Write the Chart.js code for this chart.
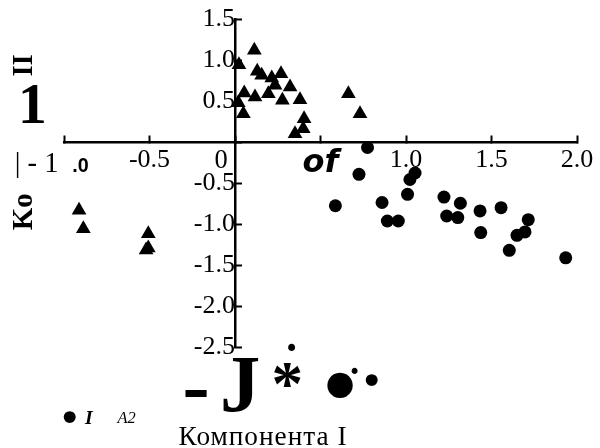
<!DOCTYPE html>
<html><head><meta charset="utf-8">
<script src="https://cdn.jsdelivr.net/npm/chart.js@4/dist/chart.umd.min.js"></script>
<style>html,body{margin:0;padding:0;background:#fff;}canvas{display:block;}</style>
</head><body>
<canvas id="c" width="600" height="448"></canvas>
<script>
// Series 1 (triangles)
const triX = [0.113, 0.023, 0.130, 0.156, 0.215, 0.269, 0.234, 0.322, 0.195, 0.054, 0.117, 0.277, 0.380, 0.019, 0.049, 0.404, 0.399, 0.351, 0.663, 0.731, -0.912, -0.887, -0.507, -0.507, -0.520];
const triY = [1.124, 0.949, 0.868, 0.820, 0.787, 0.839, 0.698, 0.677, 0.595, 0.604, 0.555, 0.515, 0.522, 0.485, 0.351, 0.290, 0.168, 0.107, 0.595, 0.351, -0.827, -1.051, -1.112, -1.287, -1.311];
// Series 2 (circles)
const cirX = [0.775, 0.725, 0.587, 0.860, 0.891, 0.955, 1.009, 1.023, 1.053, 1.222, 1.238, 1.318, 1.303, 1.433, 1.556, 1.437, 1.715, 1.696, 1.649, 1.604, 1.934];
const cirY = [-0.061, -0.388, -0.771, -0.732, -0.957, -0.957, -0.632, -0.451, -0.372, -0.665, -0.896, -0.741, -0.915, -0.835, -0.795, -1.098, -0.941, -1.091, -1.132, -1.315, -1.406];
// Tick labels
const xTickValues = [-1, -0.5, 0, 0.5, 1, 1.5, 2];
const xTickLabels = ['', '-0.5', '', 'of', '1.0', '1.5', '2.0'];
const yTickValues = [1.5, 1, 0.5, 0, -0.5, -1, -1.5, -2, -2.5];
const yTickLabels = ['1.5', '1.0', '0.5', '', '-0.5', '-1.0', '-1.5', '-2.0', '-2.5'];
const xTitle = 'Компонента I';

const SERIF = '"Liberation Serif", "Times New Roman", serif';
// free-standing text fragments of the scanned figure: ink box centre, fitted size
const notes = [
  {t: 'II', cx: 22.5, cy: 65.5, h: 19, rot: -90, style: 'bold {s} ' + SERIF},
  {t: '1', cx: 33, cy: 104, h: 38, style: 'bold {s} ' + SERIF},
  {t: '| - 1', cx: 37, cy: 165, w: 40, style: '{s} ' + SERIF},
  {t: 'Ko', cx: 22.5, cy: 212, h: 19, rot: -90, style: 'bold {s} ' + SERIF},
  {t: '.0', cx: 81, cy: 165, h: 14, style: 'bold {s} "Liberation Sans", Arial, sans-serif'},
  {t: '0', cx: 221.5, cy: 159, h: 18, style: '{s} ' + SERIF},
  {t: '-', cx: 196, cy: 392.5, w: 22, style: 'bold {s} ' + SERIF},
  {t: 'J', cx: 241, cy: 385, h: 54, style: 'bold {s} ' + SERIF},
  {t: '*', cx: 287, cy: 375, h: 24, style: 'bold {s} ' + SERIF},
  {t: '•', cx: 291.5, cy: 346.5, h: 7, style: '{s} "DejaVu Sans", sans-serif'},
  {t: '●', cx: 340, cy: 385, h: 26, style: '{s} "DejaVu Sans", sans-serif'},
  {t: '•', cx: 355, cy: 370.5, h: 6, style: '{s} "DejaVu Sans", sans-serif'},
  {t: '•', cx: 372, cy: 380, h: 12, style: '{s} "DejaVu Sans", sans-serif'},
  {t: '•', cx: 70, cy: 417, h: 12, style: '{s} "DejaVu Sans", sans-serif'},
  {t: 'I', cx: 89, cy: 417, h: 13, style: 'italic bold {s} ' + SERIF},
  {t: 'A2', cx: 126, cy: 417.5, h: 11, style: 'italic {s} ' + SERIF},
  {t: xTitle, cx: 262.5, cy: 436, h: 18, ls: 1, style: '{s} ' + SERIF}
];

function drawFit(ctx, n) {
  ctx.save();
  ctx.textAlign = 'left';
  ctx.textBaseline = 'alphabetic';
  if (n.ls) ctx.letterSpacing = n.ls + 'px';
  ctx.font = n.style.replace('{s}', '100px');
  let m = ctx.measureText(n.t);
  const ink = n.w ? (m.actualBoundingBoxLeft + m.actualBoundingBoxRight) : (m.actualBoundingBoxAscent + m.actualBoundingBoxDescent);
  const size = 100 * (n.w || n.h) / ink;
  ctx.font = n.style.replace('{s}', size.toFixed(2) + 'px');
  m = ctx.measureText(n.t);
  ctx.translate(n.cx, n.cy);
  if (n.rot) ctx.rotate(n.rot * Math.PI / 180);
  const ox = -(m.actualBoundingBoxRight - m.actualBoundingBoxLeft) / 2;
  const oy = (m.actualBoundingBoxAscent - m.actualBoundingBoxDescent) / 2;
  ctx.fillStyle = '#000';
  ctx.fillText(n.t, ox, oy);
  ctx.restore();
}

const notesPlugin = {
  id: 'notes',
  afterDraw(chart) { notes.forEach(n => drawFit(chart.ctx, n)); }
};

function labelFor(values, labels, v) {
  const i = values.findIndex(t => Math.abs(t - v) < 1e-9);
  return i < 0 ? '' : labels[i];
}

// centred axes: let the layout padding alone define the plot area
function noPadding(scale) {
  scale.paddingLeft = 0; scale.paddingRight = 0;
  scale.paddingTop = 0; scale.paddingBottom = 0;
}

new Chart(document.getElementById('c'), {
  type: 'scatter',
  data: {
    datasets: [
      {data: triX.map((x, i) => ({x: x, y: triY[i]})), pointStyle: 'triangle', pointRadius: 8.5,
       backgroundColor: '#000', borderColor: '#000', borderWidth: 0},
      {data: cirX.map((x, i) => ({x: x, y: cirY[i]})), pointStyle: 'circle', pointRadius: 6.5,
       backgroundColor: '#000', borderColor: '#000', borderWidth: 0}
    ]
  },
  options: {
    responsive: false,
    animation: false,
    devicePixelRatio: 1,
    layout: {padding: {left: 64, right: 23, top: 19.5, bottom: 100.5}},
    plugins: {legend: {display: false}, tooltip: {enabled: false}},
    scales: {
      x: {
        type: 'linear', min: -1, max: 2, position: {y: 0},
        afterFit: noPadding,
        border: {display: true, color: '#000', width: 2.5},
        grid: {drawOnChartArea: false, drawTicks: true, tickLength: -8, tickWidth: 2, color: '#000'},
        ticks: {
          stepSize: 0.5, autoSkip: false, maxRotation: 0, color: '#000', padding: 10,
          font: (c) => (c.tick && Math.abs(c.tick.value - 0.5) < 1e-9)
            ? {family: '"DejaVu Sans", sans-serif', size: 32, style: 'italic', weight: 'bold'}
            : {family: SERIF, size: 26},
          callback: (v) => labelFor(xTickValues, xTickLabels, v)
        }
      },
      y: {
        type: 'linear', min: -2.5, max: 1.5, position: {x: 0},
        afterFit: noPadding,
        border: {display: true, color: '#000', width: 2.5},
        grid: {drawOnChartArea: false, drawTicks: true, tickLength: -8, tickWidth: 2, color: '#000'},
        ticks: {
          stepSize: 0.5, autoSkip: false, color: '#000', padding: 12,
          font: {family: SERIF, size: 26},
          callback: (v) => labelFor(yTickValues, yTickLabels, v)
        }
      }
    }
  },
  plugins: [notesPlugin]
});
</script>
</body></html>
